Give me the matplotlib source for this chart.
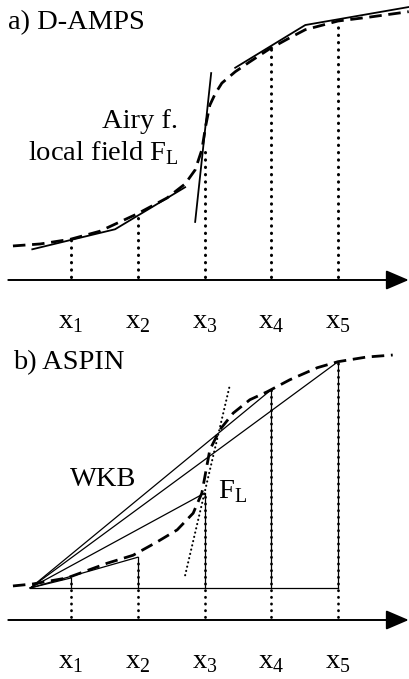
import matplotlib.pyplot as plt

plt.rcParams['font.family'] = ['Liberation Serif', 'DejaVu Serif']
plt.rcParams['mathtext.fontset'] = 'custom'
plt.rcParams['mathtext.rm'] = 'Liberation Serif'

# grid points x1..x5
x_pts = [1, 2, 3, 4, 5]
x_labels = [r'x$_{%d}$' % i for i in x_pts]

# panel a) D-AMPS
a_dot_top = [0.60, 0.94, 1.99, 3.48, 3.82]
a_curve_x = [0.13, 0.54, 0.99, 1.43, 1.99, 2.44, 2.71, 2.86, 2.96, 3.02,
             3.08, 3.16, 3.26, 3.46, 3.68, 3.97, 4.28, 4.51, 5.0, 5.48, 6.06]
a_curve_y = [0.51, 0.54, 0.61, 0.73, 0.99, 1.23, 1.44, 1.65, 1.95, 2.32,
             2.62, 2.79, 2.95, 3.12, 3.27, 3.46, 3.63, 3.75, 3.88, 3.94, 4.02]
a_low_x = [0.42, 1.66, 2.71]
a_low_y = [0.46, 0.76, 1.39]
a_airy_x = [2.86, 3.10]
a_airy_y = [0.87, 3.10]
a_up_x = [3.46, 4.51, 6.06]
a_up_y = [3.18, 3.82, 4.09]

# panel b) ASPIN
b_origin = (0.39, 0.48)
b_top = [0.63, 0.94, 1.90, 3.45, 3.87]
b_dot_bottom = 0.05
b_curve_x = [0.13, 0.43, 0.94, 1.54, 1.93, 2.29, 2.59, 2.83, 2.96, 3.08,
             3.23, 3.43, 3.68, 3.94, 4.28, 4.69, 5.0, 5.43, 5.82]
b_curve_y = [0.51, 0.54, 0.63, 0.85, 0.97, 1.17, 1.35, 1.60, 1.90, 2.55,
             2.85, 3.10, 3.30, 3.42, 3.60, 3.78, 3.87, 3.94, 3.97]
b_tan_x = [2.71, 3.38]
b_tan_y = [0.67, 3.52]

fig = plt.figure(figsize=(4.09, 6.79), dpi=100)
ax_a = fig.add_axes([0, 339 / 679, 1, 340 / 679])
ax_b = fig.add_axes([0, 0, 1, 339 / 679])

dash = (0, (4.5, 2.4))
dots = (0, (0.1, 2.3))
fs = 20.5

for ax in (ax_a, ax_b):
    ax.set_xlim(-0.064, 6.064)
    ax.axis('off')
    ax.annotate('', xy=(6.06, 0), xytext=(0.06, 0),
                arrowprops=dict(arrowstyle='-|>,head_length=0.7,head_width=0.3',
                                lw=1.4, color='black', mutation_scale=20,
                                shrinkA=0, shrinkB=0))
    for x, lab in zip(x_pts, x_labels):
        ax.text(x, -0.64, lab, ha='center', va='center', fontsize=fs)

ax_a.set_ylim(-0.899, 4.195)
ax_b.set_ylim(-0.884, 4.195)

# --- panel a
for x, top in zip(x_pts, a_dot_top):
    ax_a.plot([x, x], [0.04, top], color='black', lw=2.2, ls=dots,
              dash_capstyle='round')
ax_a.plot(a_curve_x, a_curve_y, color='black', lw=2.0, ls=dash)
ax_a.plot(a_low_x, a_low_y, color='black', lw=1.3)
ax_a.plot(a_airy_x, a_airy_y, color='black', lw=1.3)
ax_a.plot(a_up_x, a_up_y, color='black', lw=1.3)
ax_a.text(0.06, 3.86, 'a) D-AMPS', ha='left', va='center', fontsize=fs)
ax_a.text(2.61, 2.37, 'Airy f.', ha='right', va='center', fontsize=fs)
ax_a.text(2.61, 1.90, r'local field F$_{\mathrm{L}}$', ha='right',
          va='center', fontsize=fs)

# --- panel b
ox, oy = b_origin
ax_b.plot([ox, x_pts[-1]], [oy, oy], color='black', lw=0.9)
for x, top in zip(x_pts, b_top):
    ax_b.plot([x, x], [oy, top], color='black', lw=0.9)
    ax_b.plot([x, x], [b_dot_bottom, top], color='black', lw=2.0, ls=dots,
              dash_capstyle='round')
    ax_b.plot([ox, x], [oy, top], color='black', lw=0.9)
ax_b.plot(b_curve_x, b_curve_y, color='black', lw=2.0, ls=dash)
ax_b.plot(b_tan_x, b_tan_y, color='black', lw=1.5, ls=(0, (0.1, 2.0)),
          dash_capstyle='round')
ax_b.text(0.13, 3.85, 'b) ASPIN', ha='left', va='center', fontsize=fs)
ax_b.text(1.48, 2.10, 'WKB', ha='center', va='center', fontsize=fs)
ax_b.text(3.20, 1.92, r'F$_{\mathrm{L}}$', ha='left', va='center',
          fontsize=fs)

fig.savefig('out.png', dpi=100)
